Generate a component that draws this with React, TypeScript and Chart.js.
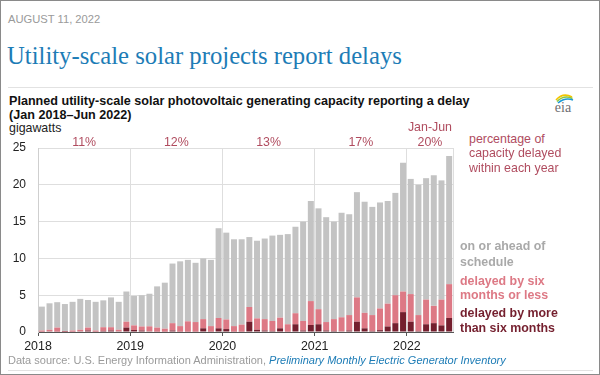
import React, { useEffect, useRef } from 'react';
import { Chart, registerables } from 'chart.js';

Chart.register(...registerables);

// ---- data ----
const years = ['2018', '2019', '2020', '2021', '2022'];
const yearShares = ['11%', '12%', '13%', '17%', '20%'];
const partialYearLabel = 'Jan-Jun';
const monthsPerYear = 12;
const monthsInLastYear = 6;
const yTicks = [0, 5, 10, 15, 20, 25];

// gigawatts, Jan 2018 .. Jun 2022
const delayedMoreThanSix = [
  0.05, 0.1, 0.05, 0.02, 0.05, 0.1, 0.2, 0.05, 0.15, 0.2, 0.1, 0.6,
  0.27, 0.2, 0.1, 0.05, 0.05, 0.2, 0.05, 0.05, 0.05, 0.5, 0.05, 0.5,
  0.4, 0.05, 0.05, 1.4, 0.3, 0.2, 0.15, 0.5, 0.05, 1.05, 0.2, 0.95,
  1.05, 0.2, 0.15, 0.1, 0.2, 1.4, 0.5, 0.15, 0.25, 0.75, 1.2, 2.7,
  1.4, 0.15, 1.05, 1.2, 0.9, 1.9,
];
const delayedSixOrLess = [
  0.15, 0.2, 0.55, 0.08, 0.15, 0.2, 0.4, 0.15, 0.5, 0.45, 0.2, 0.8,
  0.63, 0.55, 0.67, 0.55, 0.4, 1.0, 0.75, 1.4, 1.3, 1.25, 0.75, 1.4,
  1.3, 0.75, 0.95, 2.0, 1.55, 1.55, 1.35, 1.45, 1.0, 1.5, 1.3, 3.25,
  2.05, 1.15, 1.6, 1.9, 2.1, 3.3, 2.1, 2.15, 2.95, 3.1, 3.8, 2.8,
  3.75, 2.15, 3.35, 2.35, 3.5, 4.6,
];
const onSchedule = [
  3.25, 3.6, 3.45, 3.7, 3.9, 4.2, 3.75, 3.9, 3.65, 4.05, 3.8, 4.1,
  4.0, 4.25, 4.43, 5.6, 6.25, 8.1, 8.8, 8.35, 8.05, 8.25, 9.0, 12.2,
  11.8, 11.8, 11.6, 9.5, 10.55, 10.95, 11.6, 11.25, 12.25, 11.75, 13.5, 13.6,
  13.7, 14.25, 13.25, 14.2, 13.7, 14.3, 15.1, 14.7, 14.4, 13.95, 13.9, 17.5,
  15.65, 17.7, 16.5, 17.75, 16.2, 17.4,
];

const COLORS = {
  gray: '#c3c3c3',
  pink: '#dd7985',
  dark: '#741f2e',
  share: '#b04c5f',
  title: '#1d7cb6',
  muted: '#9a9a9a',
  grid: '#dedede',
};

const SANS = '"Liberation Sans", Arial, Helvetica, sans-serif';
const SERIF = '"Liberation Serif", "Times New Roman", serif';

const CANVAS_TOP = 118;

function toPoints(values: number[]) {
  return values.map((v, i) => ({ x: i + 0.5, y: v }));
}

const sharePlugin = {
  id: 'yearShares',
  afterDraw(chart: any) {
    const { ctx } = chart;
    const xs = chart.scales.x;
    ctx.save();
    ctx.font = `12.4px ${SANS}`;
    ctx.fillStyle = COLORS.share;
    ctx.textAlign = 'center';
    ctx.textBaseline = 'middle';
    years.forEach((_, k) => {
      const last = k === years.length - 1;
      const months = last ? monthsInLastYear : monthsPerYear;
      const cx = xs.getPixelForValue(k * monthsPerYear + months / 2);
      ctx.fillText(yearShares[k], cx, 142 - CANVAS_TOP);
      if (last) ctx.fillText(partialYearLabel, cx, 127 - CANVAS_TOP);
    });
    ctx.restore();
  },
};

function DelayChart() {
  const ref = useRef<HTMLCanvasElement>(null);
  useEffect(() => {
    if (!ref.current) return;
    const totalMonths = onSchedule.length;
    const chart = new Chart(ref.current, {
      type: 'bar',
      data: {
        datasets: [
          { label: 'delayed by more than six months', data: toPoints(delayedMoreThanSix), backgroundColor: COLORS.dark },
          { label: 'delayed by six months or less', data: toPoints(delayedSixOrLess), backgroundColor: COLORS.pink },
          { label: 'on or ahead of schedule', data: toPoints(onSchedule), backgroundColor: COLORS.gray },
        ] as any,
      },
      options: {
        responsive: false,
        animation: false,
        events: [],
        layout: { padding: { top: 29, right: 8, bottom: 0, left: 0 } },
        datasets: { bar: { categoryPercentage: 1, barPercentage: 0.78, borderWidth: 0 } },
        plugins: { legend: { display: false }, tooltip: { enabled: false } },
        scales: {
          x: {
            type: 'linear',
            stacked: true,
            offset: false,
            min: 0,
            max: totalMonths,
            afterBuildTicks: (scale: any) => {
              const vals: number[] = years.map((_, k) => k * monthsPerYear);
              vals.push(totalMonths);
              scale.ticks = vals.map((v) => ({ value: v }));
            },
            afterFit: (scale: any) => { scale.height = 27; },
            grid: {
              offset: false,
              color: COLORS.grid,
              tickLength: 4,
              tickColor: (c: any) => (c.tick && c.tick.value === totalMonths ? 'rgba(0,0,0,0)' : '#555'),
            },
            border: { color: '#555' },
            ticks: {
              autoSkip: false,
              maxRotation: 0,
              padding: 3,
              color: '#222',
              font: { family: SANS, size: 12.4 },
              callback: (v: any) => {
                const k = Number(v) / monthsPerYear;
                return Number.isInteger(k) && k < years.length ? years[k] : '';
              },
            },
          },
          y: {
            stacked: true,
            min: 0,
            max: 25,
            afterBuildTicks: (scale: any) => { scale.ticks = yTicks.map((v) => ({ value: v })); },
            afterFit: (scale: any) => { scale.width = 37; },
            grid: { color: COLORS.grid, drawTicks: false },
            border: { color: '#cfcfcf' },
            ticks: { padding: 12, color: '#222', font: { family: SANS, size: 12 } },
          },
        },
      } as any,
      plugins: [sharePlugin],
    });
    return () => chart.destroy();
  }, []);
  return (
    <canvas
      ref={ref}
      width={460}
      height={240}
      style={{ position: 'absolute', left: 0, top: CANVAS_TOP, width: 460, height: 240 }}
    />
  );
}

function Txt(props: { left: number; cy: number; lh?: number; style?: React.CSSProperties; children: React.ReactNode }) {
  const lh = props.lh ?? 15;
  return (
    <div
      style={{
        position: 'absolute',
        left: props.left,
        top: props.cy - lh / 2,
        lineHeight: `${lh}px`,
        whiteSpace: 'nowrap',
        fontFamily: SANS,
        ...props.style,
      }}
    >
      {props.children}
    </div>
  );
}

function EiaLogo() {
  return (
    <svg width={26} height={24} style={{ position: 'absolute', left: 549, top: 90 }} viewBox="0 0 26 24">
      <path d="M6 9 Q13 1 22 6" stroke="#f2c500" strokeWidth={1.6} fill="none" />
      <path d="M7 10.5 Q14 3.5 22.5 7.5" stroke="#8cc63f" strokeWidth={1.6} fill="none" />
      <path d="M8 12 Q15 6 23 9" stroke="#1b9ad6" strokeWidth={1.6} fill="none" />
      <text x={13} y={21} textAnchor="middle" fontFamily={SERIF} fontSize={14} fill="#6d6e71">eia</text>
    </svg>
  );
}

export default function App() {
  const legendFont = { fontSize: 12.4, fontWeight: 700 } as React.CSSProperties;
  return (
    <div
      style={{
        position: 'fixed',
        left: 0,
        top: 0,
        width: 600,
        height: 375,
        boxSizing: 'border-box',
        border: '1px solid #8a8a8a',
        background: '#fff',
        overflow: 'hidden',
      }}
    >
      <Txt left={7} cy={18} style={{ fontSize: 11.2, color: COLORS.muted }}>AUGUST 11, 2022</Txt>
      <Txt left={6} cy={55} lh={30} style={{ fontFamily: SERIF, fontSize: 24.7, color: COLORS.title }}>
        Utility-scale solar projects report delays
      </Txt>
      <div style={{ position: 'absolute', left: 7, top: 86, width: 585, height: 1, background: '#e2e2e2' }} />
      <Txt left={8} cy={100} lh={14} style={{ fontSize: 12.6, fontWeight: 700, color: '#111' }}>
        Planned utility-scale solar photovoltaic generating capacity reporting a delay
      </Txt>
      <Txt left={8} cy={114} lh={14} style={{ fontSize: 12.6, fontWeight: 700, color: '#111' }}>
        (Jan 2018–Jun 2022)
      </Txt>
      <Txt left={8} cy={127} lh={14} style={{ fontSize: 12.4, color: '#222' }}>gigawatts</Txt>
      <EiaLogo />

      <DelayChart />

      <Txt left={468} cy={138} lh={14.5} style={{ fontSize: 12.4, color: COLORS.share }}>percentage of</Txt>
      <Txt left={468} cy={152.5} lh={14.5} style={{ fontSize: 12.4, color: COLORS.share }}>capacity delayed</Txt>
      <Txt left={468} cy={167} lh={14.5} style={{ fontSize: 12.4, color: COLORS.share }}>within each year</Txt>

      <Txt left={459} cy={245.7} style={{ ...legendFont, color: '#a9a9a9' }}>on or ahead of</Txt>
      <Txt left={459} cy={261} style={{ ...legendFont, color: '#a9a9a9' }}>schedule</Txt>
      <Txt left={459} cy={280} style={{ ...legendFont, color: COLORS.pink }}>delayed by six</Txt>
      <Txt left={459} cy={294} style={{ ...legendFont, color: COLORS.pink }}>months or less</Txt>
      <Txt left={459} cy={312.5} style={{ ...legendFont, color: COLORS.dark }}>delayed by more</Txt>
      <Txt left={459} cy={327} style={{ ...legendFont, color: COLORS.dark }}>than six months</Txt>

      <Txt left={7} cy={359} lh={13} style={{ fontSize: 11, color: COLORS.muted }}>
        Data source: U.S. Energy Information Administration,{' '}
        <span style={{ fontStyle: 'italic', color: COLORS.title }}>Preliminary Monthly Electric Generator Inventory</span>
      </Txt>
      <div style={{ position: 'absolute', left: 7, top: 369, width: 585, height: 1, background: '#e2e2e2' }} />
    </div>
  );
}
